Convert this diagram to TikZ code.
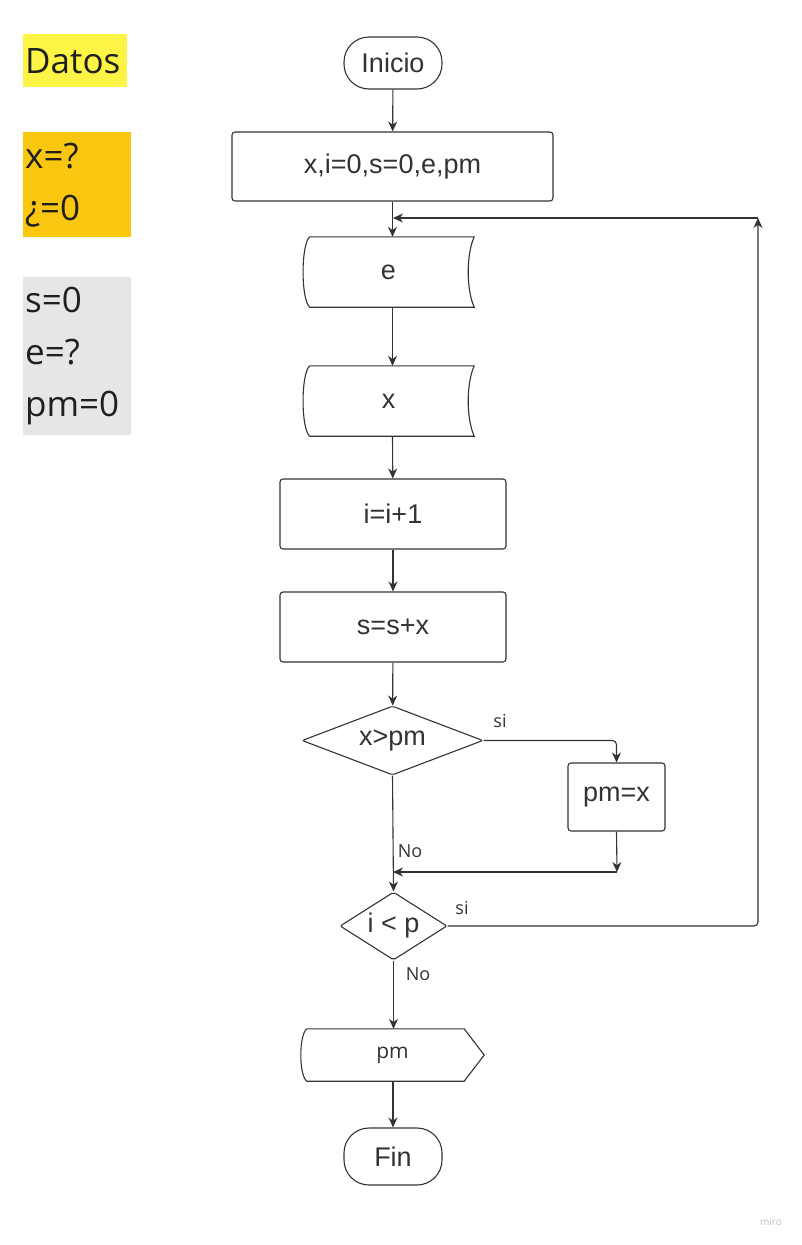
\documentclass[tikz,border=0pt]{standalone}
\usepackage{fontspec}
\setmainfont{Liberation Sans}
\newfontfamily\mirofont{Open Sans}
\usetikzlibrary{shapes.geometric,arrows.meta,calc}

\definecolor{ink}{RGB}{51,51,51}
\definecolor{notey}{RGB}{254,244,69}
\definecolor{noteo}{RGB}{250,199,16}
\definecolor{noteg}{RGB}{230,230,230}

\tikzset{
  line/.style={draw=ink, line width=1.1pt},
  arrow/.style={line, -{Stealth[length=10pt,width=9pt]}},
  bigtext/.style={text=ink, font=\fontsize{27}{30}\selectfont},
  term/.style={line, bigtext, rounded corners=25pt, minimum width=98pt},
  proc/.style={line, bigtext, rounded corners=3pt, minimum height=70pt},
  dec/.style={line, bigtext, diamond, rounded corners=2pt, inner sep=0pt},
  io/.style={bigtext, minimum width=171pt, minimum height=70pt},
  lbl/.style={text=ink, font=\mirofont\fontsize{18}{20}\selectfont},
  note/.style={anchor=north west, align=left, inner xsep=2pt, inner ysep=0pt,
    text=black!88, font=\mirofont\fontsize{35}{52}\selectfont},
}

% stored data outline round an undrawn node
\newcommand{\datashape}[1]{%
  \draw[line] ($(#1.north west)+(7,0)$) -- (#1.north east)
    .. controls ($(#1.north east)+(-8,18)$) and ($(#1.south east)+(-8,-18)$) .. (#1.south east)
    -- ($(#1.south west)+(7,0)$)
    .. controls ($(#1.south west)+(-2,-7)$) and ($(#1.north west)+(-2,7)$) .. ($(#1.north west)+(7,0)$);
}

\begin{document}
\begin{tikzpicture}[x=1pt,y=-1pt]
  \fill[white] (0,0) rectangle (802,1245);
  \useasboundingbox (0,0) rectangle (802,1245);

  % notes on the left
  \node[note, fill=notey, text width=100pt, minimum height=53pt] (datos) at (23,34) {Datos};
  \node[note, fill=noteo, text width=104pt, minimum height=105pt] (datA) at (23,132) {x=?\\¿=0};
  \node[note, fill=noteg, text width=104pt, minimum height=158pt] (datB) at (23,277) {s=0\\e=?\\pm=0};

  % flow
  \node[term, minimum height=52pt] (start) at (393,63) {Inicio};
  \node[proc, minimum width=321pt, minimum height=69pt] (init) at (392.5,166.5) {x,i=0,s=0,e,pm};
  \node[io] (inE) at (388.5,272) {e};
  \datashape{inE}
  \node[io] (inX) at (388.5,401) {x};
  \datashape{inX}
  \node[proc, minimum width=226pt] (inc) at (393,514) {i=i+1};
  \node[proc, minimum width=226pt] (sum) at (393,627) {s=s+x};
  \node[dec, aspect=2.6, minimum width=181pt, minimum height=69pt] (xpm) at (392.5,740.5) {x>pm};
  \node[proc, minimum width=97pt, minimum height=68pt] (pmx) at (616.5,797) {pm=x};
  \node[dec, aspect=1.57, minimum width=107pt, minimum height=68pt] (ip) at (393.5,926) {i < p};
  \node[minimum width=183pt, minimum height=52pt, text=ink,
    font=\mirofont\fontsize{21}{24}\selectfont] (outpm) at (392.5,1055) {pm};
  \draw[line] ($(outpm.north west)+(6,0)$) -- ($(outpm.north east)+(-20,0)$)
    -- (outpm.east) -- ($(outpm.south east)+(-20,0)$) -- ($(outpm.south west)+(6,0)$)
    .. controls ($(outpm.south west)+(-2,-6)$) and ($(outpm.north west)+(-2,6)$) .. ($(outpm.north west)+(6,0)$);
  \node[term, minimum height=57pt] (stop) at (393,1156.5) {Fin};

  \coordinate (loopTop) at (758,218);
  \coordinate (joinTop) at (393,218);
  \coordinate (mergeR) at (617,872);
  \coordinate (mergeL) at (393,872);

  \draw[arrow] (start) -- (init);
  \draw[arrow] (init.south) -- (init.south |- inE.north);
  \draw[arrow] (inE.south -| init.south) -- (init.south |- inX.north);
  \draw[arrow] (inX.south -| init.south) -- (inc);
  \draw[arrow] (inc) -- (sum);
  \draw[arrow] (sum) -- (xpm);
  \draw[arrow, rounded corners=4pt] (xpm.east) -| (pmx.north);
  \draw[arrow] (xpm.south) -- (ip.north);
  \draw[arrow] (pmx.south) -- (mergeR);
  \draw[arrow] (mergeR) -- (mergeL);
  \draw[arrow, rounded corners=4pt] (ip.east) -| (loopTop);
  \draw[arrow] (loopTop) -- (joinTop);
  \draw[arrow] (ip.south) -- (outpm.north -| ip.south);
  \draw[arrow] (outpm.south -| stop.north) -- (stop);

  % branch labels
  \node[lbl] (siA) at (500,721) {si};
  \node[lbl] (noA) at (410,851) {No};
  \node[lbl] (siB) at (462,908) {si};
  \node[lbl] (noB) at (418,974) {No};

  \node[text=black!25, font=\mirofont\fontsize{10}{12}\selectfont] (mark) at (771,1222) {miro};
\end{tikzpicture}
\end{document}
